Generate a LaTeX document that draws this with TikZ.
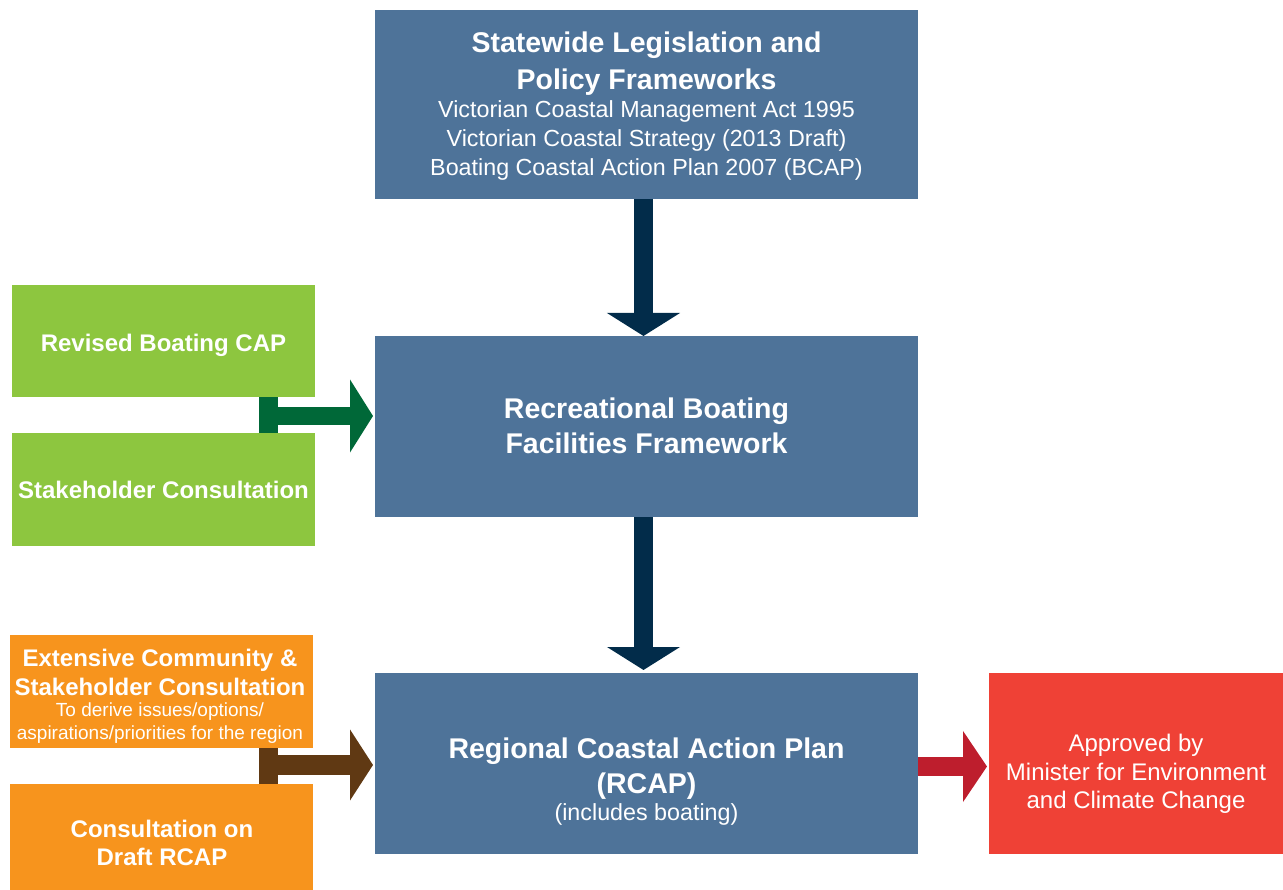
\documentclass[tikz,border=0pt]{standalone}
\usepackage{fontspec}
\setmainfont{Liberation Sans}
\usetikzlibrary{arrows.meta}
\definecolor{boxblue}{HTML}{4E7399}
\definecolor{navy}{HTML}{022C4A}
\definecolor{ltgreen}{HTML}{8DC63F}
\definecolor{dkgreen}{HTML}{006838}
\definecolor{orng}{HTML}{F7941D}
\definecolor{brwn}{HTML}{603913}
\definecolor{redbox}{HTML}{EF4136}
\definecolor{dkred}{HTML}{BE1E2D}
\tikzset{
  blk/.style={rectangle, inner sep=0pt, outer sep=0pt},
  bigtitle/.style={anchor=base, text=white, inner sep=0pt, font=\fontsize{28.5}{34}\selectfont\bfseries},
  bodytxt/.style={anchor=base, text=white, inner sep=0pt, font=\fontsize{23.3}{28}\selectfont},
  redtxt/.style={anchor=base, text=white, inner sep=0pt, font=\fontsize{24}{29}\selectfont},
  sidetitle/.style={anchor=base, text=white, inner sep=0pt, font=\fontsize{24}{29}\selectfont\bfseries},
  smalltxt/.style={anchor=base, text=white, inner sep=0pt, font=\fontsize{19}{23}\selectfont},
}
\begin{document}
\begin{tikzpicture}[x=1pt,y=-1pt]
\useasboundingbox (0,0) rectangle (1283,890);
% main boxes
\node[blk, fill=boxblue, minimum width=543pt, minimum height=189pt] (top) at (646.5,104.5) {};
\node[blk, fill=boxblue, minimum width=543pt, minimum height=181pt] (mid) at (646.5,426.5) {};
\node[blk, fill=boxblue, minimum width=543pt, minimum height=181pt] (bot) at (646.5,763.5) {};
% side boxes
\node[blk, fill=ltgreen, minimum width=303pt, minimum height=112pt] (g1) at (163.5,341) {};
\node[blk, fill=ltgreen, minimum width=303pt, minimum height=113pt] (g2) at (163.5,489.5) {};
\node[blk, fill=orng, minimum width=303pt, minimum height=113pt] (o1) at (161.5,691.5) {};
\node[blk, fill=orng, minimum width=303pt, minimum height=106pt] (o2) at (161.5,837) {};
\node[blk, fill=redbox, minimum width=294pt, minimum height=181pt] (red) at (1136,763.5) {};
% texts top
\node[bigtitle] (t1) at (646.5,53) {Statewide Legislation and};
\node[bigtitle] (t2) at (646.5,90) {Policy Frameworks};
\node[bodytxt] (t3) at (646.5,118) {Victorian Coastal Management Act 1995};
\node[bodytxt] (t4) at (646.5,147) {Victorian Coastal Strategy (2013 Draft)};
\node[bodytxt] (t5) at (646.5,176) {Boating Coastal Action Plan 2007 (BCAP)};
% texts mid
\node[bigtitle] (m1) at (646.5,419) {Recreational Boating};
\node[bigtitle] (m2) at (646.5,454) {Facilities Framework};
% texts bottom
\node[bigtitle] (b1) at (646.5,758) {Regional Coastal Action Plan};
\node[bigtitle] (b2) at (646.5,793) {(RCAP)};
\node[bodytxt] (b3) at (646.5,820) {(includes boating)};
% green texts
\node[sidetitle] (gt1) at (163.5,352) {Revised Boating CAP};
\node[sidetitle] (gt2) at (163.5,499) {Stakeholder Consultation};
% orange texts
\node[sidetitle] (ot1) at (160,666) {Extensive Community \&};
\node[sidetitle] (ot2) at (160,695) {Stakeholder Consultation};
\node[smalltxt] (ot3) at (160,716) {To derive issues/options/};
\node[smalltxt] (ot4) at (160,739) {aspirations/priorities for the region};
\node[sidetitle] (ot5) at (162,837) {Consultation on};
\node[sidetitle] (ot6) at (162,865) {Draft RCAP};
% red texts
\node[redtxt] (r1) at (1136,751) {Approved by};
\node[redtxt] (r2) at (1136,780) {Minister for Environment};
\node[redtxt] (r3) at (1136,808) {and Climate Change};
% coordinates
\coordinate (ax) at (643.5,0);
\coordinate (gx) at (259,416);
\coordinate (gx2) at (278,0);
\coordinate (bx) at (259,765);
\coordinate (ry) at (0,766.5);
% down arrows
\draw[navy, line width=19pt, -{Triangle[width=72pt,length=23pt]}] (top.south -| ax) -- (mid.north -| ax);
\draw[navy, line width=19pt, -{Triangle[width=72pt,length=23pt]}] (mid.south -| ax) -- ([yshift=3pt]bot.north -| ax);
% green connector
\fill[dkgreen] (g1.south -| gx) rectangle (g2.north -| gx2);
\draw[dkgreen, line width=18pt, -{Triangle[width=72pt,length=23pt]}] (gx) -- ([xshift=-2pt]gx -| mid.west);
% brown connector
\fill[brwn] (o1.south -| bx) rectangle (o2.north -| gx2);
\draw[brwn, line width=20pt, -{Triangle[width=70pt,length=23pt]}] (bx) -- ([xshift=-2pt]bx -| bot.west);
% red arrow
\draw[dkred, line width=19pt, -{Triangle[width=70pt,length=24pt]}] (bot.east |- ry) -- ([xshift=-2pt]red.west |- ry);
\end{tikzpicture}
\end{document}
